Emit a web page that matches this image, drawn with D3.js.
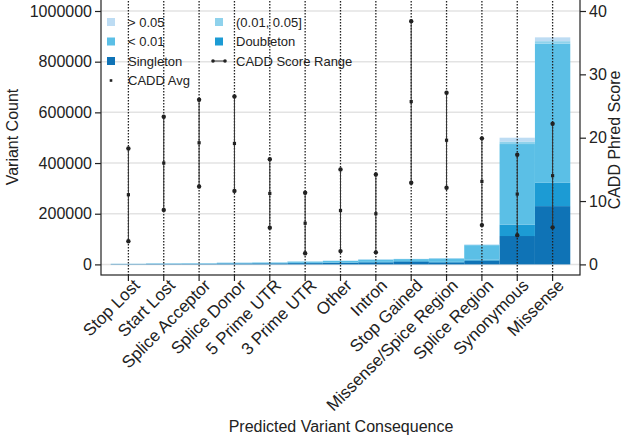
<!DOCTYPE html>
<html><head><meta charset="utf-8">
<script src="https://cdn.jsdelivr.net/npm/d3@7"></script>
<style>body{margin:0;background:#fff}svg{display:block}text{font-family:"Liberation Sans",Arial,Helvetica,sans-serif;fill:#222}</style>
</head><body><svg id="c" width="627" height="436"></svg>
<script>
const categories = ["Stop Lost","Start Lost","Splice Acceptor","Splice Donor","5 Prime UTR","3 Prime UTR","Other","Intron","Stop Gained","Missense/Spice Region","Splice Region","Synonymous","Missense"];
const singleton = [1200,2000,2200,3500,4000,5000,6000,8000,11000,8000,15000,112000,230000];
const doubleton = [300,500,500,800,900,1200,1500,2000,2500,2000,4000,45000,92000];
const lt001 = [800,1200,1500,2300,2500,5000,6500,9000,7500,13500,57000,318000,549000];
const mid = [100,150,150,200,300,400,500,500,500,700,1500,10000,10000];
const gt005 = [100,150,150,200,300,400,500,500,500,800,1500,15000,15000];
const caddMax = [18.3,23.3,26.0,26.5,16.6,11.3,15.0,14.2,38.4,27.1,19.9,17.3,22.2];
const caddAvg = [11.0,16.0,19.2,19.1,11.2,6.5,8.5,8.0,25.7,19.6,13.1,11.1,14.0];
const caddMin = [3.65,8.6,12.3,11.6,5.8,1.75,2.1,1.9,12.9,12.1,6.2,4.6,5.85];
const leftTicks = [0,200000,400000,600000,800000,1000000];
const rightTicks = [0,10,20,30,40];
const seriesNames = ["Singleton","Doubleton","< 0.01","(0.01, 0.05]","> 0.05"];
const seriesColors = ["#0f73b6","#1c9bd4","#5bbfe6","#8fd2ec","#bddcf3"];

const L=101,R=580,T=-2,B=275;
const svg=d3.select("#c");
const x=d3.scaleBand().domain(categories).range([L,R]).paddingInner(0).paddingOuter(0.275);
const y=d3.scaleLinear().domain([0,1000000]).range([264.4,11]);
const y2=d3.scaleLinear().domain([0,40]).range([264.4,11]);

// gridlines
svg.append("g").selectAll("line").data(leftTicks).join("line")
 .attr("x1",L).attr("x2",R).attr("y1",d=>y(d)).attr("y2",d=>y(d))
 .attr("stroke","#e3e3e3").attr("stroke-width",1.5);

// stacked bars
const rows=categories.map((c,i)=>({cat:c,s0:singleton[i],s1:doubleton[i],s2:lt001[i],s3:mid[i],s4:gt005[i]}));
const stack=d3.stack().keys(["s0","s1","s2","s3","s4"])(rows);
svg.append("g").selectAll("g").data(stack).join("g").attr("fill",(d,i)=>seriesColors[i])
 .selectAll("rect").data(d=>d).join("rect")
 .attr("x",d=>x(d.data.cat)).attr("width",x.bandwidth())
 .attr("y",d=>y(d[1])).attr("height",d=>y(d[0])-y(d[1]));

// dotted verticals
const cx=c=>x(c)+x.bandwidth()/2;
svg.append("g").selectAll("line").data(categories).join("line")
 .attr("x1",cx).attr("x2",cx).attr("y1",T).attr("y2",B)
 .attr("stroke","#222").attr("stroke-width",1.3).attr("stroke-dasharray","1.5,1.5");
// range lines
svg.append("g").selectAll("line").data(categories).join("line")
 .attr("x1",cx).attr("x2",cx).attr("y1",(c,i)=>y2(caddMax[i])).attr("y2",(c,i)=>y2(caddMin[i]))
 .attr("stroke","#333").attr("stroke-width",1);
const pts=[];
categories.forEach((c,i)=>{pts.push({c,v:caddMax[i]});pts.push({c,v:caddMin[i]});});
svg.append("g").selectAll("circle").data(pts).join("circle")
 .attr("cx",d=>cx(d.c)).attr("cy",d=>y2(d.v)).attr("r",2.2).attr("fill","#222");
svg.append("g").selectAll("rect").data(categories).join("rect")
 .attr("x",c=>cx(c)-1.6).attr("y",(c,i)=>y2(caddAvg[i])-1.6).attr("width",3.2).attr("height",3.2).attr("fill","#222");

// frame
svg.append("rect").attr("x",L).attr("y",T).attr("width",R-L).attr("height",B-T)
 .attr("fill","none").attr("stroke","#222").attr("stroke-width",1.2);

// axes
const fs="16px";
const ax=svg.append("g").attr("transform",`translate(${L},0)`)
 .call(d3.axisLeft(y).tickValues(leftTicks).tickFormat(d3.format("d")).tickSize(6).tickPadding(3));
const ax2=svg.append("g").attr("transform",`translate(${R},0)`)
 .call(d3.axisRight(y2).tickValues(rightTicks).tickSize(6).tickPadding(3));
const axb=svg.append("g").attr("transform",`translate(0,${B})`)
 .call(d3.axisBottom(x).tickSize(6).tickSizeOuter(0));
[ax,ax2,axb].forEach(g=>{g.select(".domain").remove();g.selectAll("line").attr("stroke","#222").attr("stroke-width",1.2);
 g.selectAll("text").attr("font-size",fs).attr("fill","#222").attr("font-family",'"Liberation Sans",Arial,sans-serif');});
axb.selectAll("text").attr("font-size","17px").attr("text-anchor","end").attr("transform","translate(4,3) rotate(-45)").attr("dy","0.35em").attr("y",6).attr("x",0);

// titles
svg.append("text").attr("transform","translate(18,137) rotate(-90)").attr("text-anchor","middle").attr("font-size","16px").text("Variant Count");
svg.append("text").attr("transform","translate(620,140) rotate(-90)").attr("text-anchor","middle").attr("font-size","16px").text("CADD Phred Score");
svg.append("text").attr("x",341).attr("y",432).attr("text-anchor","middle").attr("font-size","16px").text("Predicted Variant Consequence");

// legend
const leg=svg.append("g");
const items=[
 {t:"> 0.05",k:"sw",c:seriesColors[4],col:0,row:0},
 {t:"(0.01, 0.05]",k:"sw",c:seriesColors[3],col:1,row:0},
 {t:"< 0.01",k:"sw",c:seriesColors[2],col:0,row:1},
 {t:"Doubleton",k:"sw",c:seriesColors[1],col:1,row:1},
 {t:"Singleton",k:"sw",c:seriesColors[0],col:0,row:2},
 {t:"CADD Score Range",k:"rg",col:1,row:2},
 {t:"CADD Avg",k:"av",col:0,row:3}];
const colX=[111,219],rowY=[22,41.5,61,80.5];
items.forEach(it=>{
 const gx=colX[it.col],gy=rowY[it.row];
 if(it.k==="sw") leg.append("rect").attr("x",gx-4).attr("y",gy-4).attr("width",8).attr("height",8).attr("fill",it.c);
 else if(it.k==="rg"){leg.append("line").attr("x1",gx-6).attr("x2",gx+6).attr("y1",gy).attr("y2",gy).attr("stroke","#333");
  leg.append("circle").attr("cx",gx-6).attr("cy",gy).attr("r",1.8).attr("fill","#222");
  leg.append("circle").attr("cx",gx+6).attr("cy",gy).attr("r",1.8).attr("fill","#222");}
 else leg.append("rect").attr("x",gx-1.3).attr("y",gy-1.3).attr("width",2.6).attr("height",2.6).attr("fill","#222");
 leg.append("text").attr("x",gx+17).attr("y",gy).attr("dy","0.35em").attr("font-size","13px").text(it.t);
});
</script></body></html>
